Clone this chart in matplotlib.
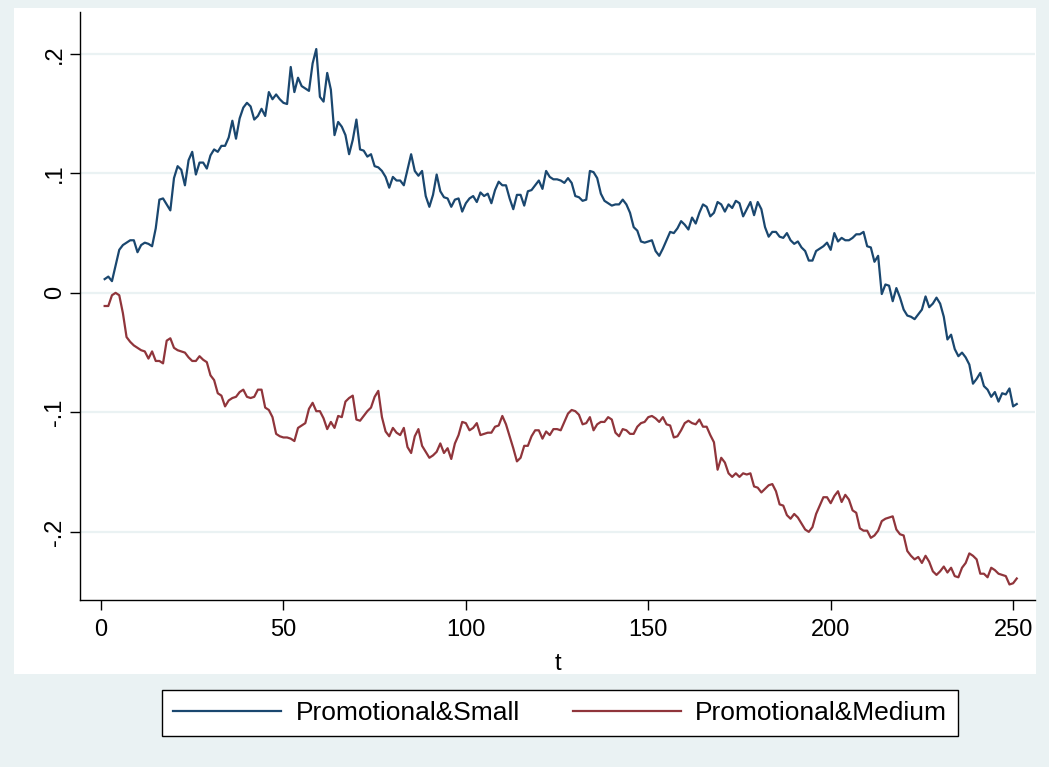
#!/usr/bin/env python3
# -*- coding: utf-8 -*-

import numpy as np
import matplotlib
matplotlib.use('Agg')
import matplotlib.pyplot as plt
from matplotlib.patches import Rectangle

# cumulative series, one value per period t = 1..251
promo_small = [
  0.0115, 0.0136, 0.0098, 0.023, 0.036, 0.040, 0.042, 0.044, 0.044, 0.034,
  0.040, 0.042, 0.041, 0.039, 0.054, 0.078, 0.079, 0.074, 0.069, 0.096,
  0.106, 0.103, 0.090, 0.111, 0.118, 0.099, 0.109, 0.109, 0.104, 0.115,
  0.120, 0.118, 0.123, 0.123, 0.130, 0.144, 0.129, 0.146, 0.155, 0.159,
  0.156, 0.145, 0.148, 0.154, 0.148, 0.168, 0.162, 0.166, 0.162, 0.159,
  0.158, 0.189, 0.168, 0.180, 0.173, 0.171, 0.169, 0.192, 0.204, 0.164,
  0.160, 0.184, 0.170, 0.132, 0.143, 0.139, 0.132, 0.116, 0.128, 0.145,
  0.120, 0.119, 0.114, 0.116, 0.106, 0.105, 0.102, 0.097, 0.088, 0.097,
  0.094, 0.094, 0.090, 0.103, 0.116, 0.102, 0.098, 0.102, 0.081, 0.072,
  0.082, 0.099, 0.085, 0.080, 0.079, 0.072, 0.078, 0.079, 0.068, 0.075,
  0.079, 0.081, 0.076, 0.084, 0.081, 0.083, 0.075, 0.086, 0.093, 0.090,
  0.090, 0.079, 0.070, 0.082, 0.082, 0.073, 0.085, 0.086, 0.090, 0.094,
  0.087, 0.102, 0.097, 0.095, 0.095, 0.094, 0.092, 0.096, 0.092, 0.081,
  0.080, 0.077, 0.078, 0.102, 0.101, 0.096, 0.083, 0.077, 0.075, 0.073,
  0.074, 0.074, 0.078, 0.074, 0.067, 0.055, 0.052, 0.043, 0.042, 0.043,
  0.044, 0.035, 0.031, 0.037, 0.044, 0.051, 0.050, 0.054, 0.060, 0.057,
  0.053, 0.063, 0.058, 0.067, 0.074, 0.072, 0.064, 0.067, 0.076, 0.074,
  0.068, 0.074, 0.071, 0.077, 0.075, 0.064, 0.070, 0.076, 0.065, 0.076,
  0.070, 0.055, 0.047, 0.051, 0.051, 0.047, 0.046, 0.050, 0.044, 0.041,
  0.043, 0.038, 0.035, 0.027, 0.027, 0.035, 0.037, 0.039, 0.042, 0.036,
  0.050, 0.043, 0.046, 0.044, 0.044, 0.046, 0.049, 0.049, 0.051, 0.039,
  0.038, 0.026, 0.031, -0.001, 0.007, 0.006, -0.007, 0.004, -0.004, -0.014,
  -0.019, -0.020, -0.022, -0.018, -0.014, -0.003, -0.012, -0.009, -0.004, -0.009,
  -0.020, -0.039, -0.035, -0.047, -0.053, -0.050, -0.054, -0.060, -0.076, -0.072,
  -0.067, -0.078, -0.081, -0.087, -0.083, -0.091, -0.084, -0.085, -0.080, -0.095, -0.093,
]

promo_medium = [
  -0.011, -0.011, -0.002, 0.000, -0.002, -0.017, -0.037, -0.041, -0.044, -0.046,
  -0.048, -0.049, -0.055, -0.049, -0.057, -0.057, -0.059, -0.040, -0.038, -0.046,
  -0.048, -0.049, -0.050, -0.054, -0.057, -0.057, -0.053, -0.056, -0.058, -0.069,
  -0.073, -0.084, -0.086, -0.095, -0.090, -0.088, -0.087, -0.083, -0.081, -0.087,
  -0.088, -0.087, -0.081, -0.081, -0.096, -0.098, -0.104, -0.118, -0.120, -0.121,
  -0.121, -0.122, -0.124, -0.113, -0.111, -0.109, -0.097, -0.092, -0.099, -0.099,
  -0.105, -0.114, -0.108, -0.113, -0.103, -0.104, -0.091, -0.088, -0.086, -0.106,
  -0.107, -0.103, -0.099, -0.096, -0.087, -0.082, -0.104, -0.116, -0.120, -0.113,
  -0.117, -0.119, -0.113, -0.129, -0.134, -0.120, -0.114, -0.128, -0.133, -0.138,
  -0.136, -0.133, -0.126, -0.134, -0.130, -0.139, -0.126, -0.119, -0.108, -0.109,
  -0.115, -0.113, -0.109, -0.119, -0.118, -0.117, -0.117, -0.112, -0.111, -0.103,
  -0.110, -0.120, -0.130, -0.141, -0.138, -0.128, -0.128, -0.120, -0.115, -0.115,
  -0.122, -0.116, -0.119, -0.114, -0.114, -0.115, -0.108, -0.101, -0.098, -0.099,
  -0.102, -0.110, -0.109, -0.104, -0.115, -0.110, -0.108, -0.108, -0.104, -0.106,
  -0.117, -0.120, -0.114, -0.115, -0.118, -0.118, -0.112, -0.109, -0.108, -0.104,
  -0.103, -0.105, -0.108, -0.104, -0.110, -0.111, -0.121, -0.120, -0.115, -0.109,
  -0.107, -0.109, -0.110, -0.106, -0.112, -0.112, -0.119, -0.125, -0.148, -0.138,
  -0.142, -0.151, -0.154, -0.151, -0.154, -0.151, -0.152, -0.151, -0.162, -0.163,
  -0.167, -0.164, -0.161, -0.160, -0.166, -0.177, -0.178, -0.186, -0.189, -0.185,
  -0.188, -0.193, -0.198, -0.200, -0.196, -0.185, -0.178, -0.171, -0.171, -0.176,
  -0.170, -0.166, -0.175, -0.169, -0.173, -0.182, -0.184, -0.197, -0.199, -0.199,
  -0.205, -0.203, -0.199, -0.191, -0.189, -0.188, -0.187, -0.198, -0.202, -0.203,
  -0.216, -0.220, -0.223, -0.221, -0.226, -0.220, -0.225, -0.233, -0.236, -0.233,
  -0.229, -0.234, -0.230, -0.237, -0.238, -0.230, -0.226, -0.218, -0.220, -0.223,
  -0.235, -0.235, -0.238, -0.230, -0.232, -0.235, -0.236, -0.237, -0.244, -0.243, -0.239,
]

x_ticks = [0, 50, 100, 150, 200, 250]
y_ticks = [-0.2, -0.1, 0.0, 0.1, 0.2]
y_ticklabels = ['-.2', '-.1', '0', '.1', '.2']
series_labels = ['Promotional&Small', 'Promotional&Medium']


def plot_series():

  plt.rcParams['font.family'] = ['Liberation Sans', 'DejaVu Sans']

  W, H = 1049, 767
  fig = plt.figure(figsize=(W / 100, H / 100), dpi=100)
  fig.patch.set_facecolor('#eaf2f3')

  # white plot region behind the axes
  fig.add_artist(Rectangle((14 / W, 1 - 674 / H), (1036 - 14) / W, (674 - 8) / H,
                           transform=fig.transFigure, facecolor='white',
                           edgecolor='none', zorder=0))

  ax = fig.add_axes([80 / W, 1 - 600 / H, (1035 - 80) / W, (600 - 12) / H])
  ax.set_facecolor('white')

  t = np.arange(1, len(promo_small) + 1)
  ax.plot(t, promo_small, color='#1a476f', linewidth=1.6, label=series_labels[0])
  ax.plot(t, promo_medium, color='#90353b', linewidth=1.6, label=series_labels[1])

  ax.set_xlim(-5.76, 256.0)
  ax.set_ylim(-0.257, 0.235)

  ax.set_xticks(x_ticks)
  ax.set_yticks(y_ticks)
  ax.set_yticklabels(y_ticklabels, rotation=90, va='center')
  ax.tick_params(axis='both', labelsize=17, length=7, width=1, color='black')
  ax.tick_params(axis='x', pad=7)
  ax.tick_params(axis='y', pad=3)

  ax.yaxis.grid(True, color='#eaf2f3', linewidth=1.6)
  ax.set_axisbelow(True)

  for side in ('top', 'right'):
    ax.spines[side].set_visible(False)
  for side in ('left', 'bottom'):
    ax.spines[side].set_color('black')
    ax.spines[side].set_linewidth(1)

  ax.set_xlabel('t', fontsize=17, labelpad=8)

  leg = fig.legend(loc='center', ncol=2,
                   bbox_to_anchor=(560 / W, 1 - 713 / H),
                   fontsize=19, handlelength=4.1, handletextpad=0.55,
                   columnspacing=2.0, borderpad=0.42,
                   frameon=True, fancybox=False)
  leg.get_frame().set_edgecolor('black')
  leg.get_frame().set_linewidth(1)
  leg.get_frame().set_facecolor('white')
  leg.get_frame().set_alpha(1)

  fig.savefig('out.png', dpi=100, facecolor=fig.get_facecolor())


def main():
  plot_series()
  return 0


if __name__ == '__main__':
  import sys
  sys.exit(main())
